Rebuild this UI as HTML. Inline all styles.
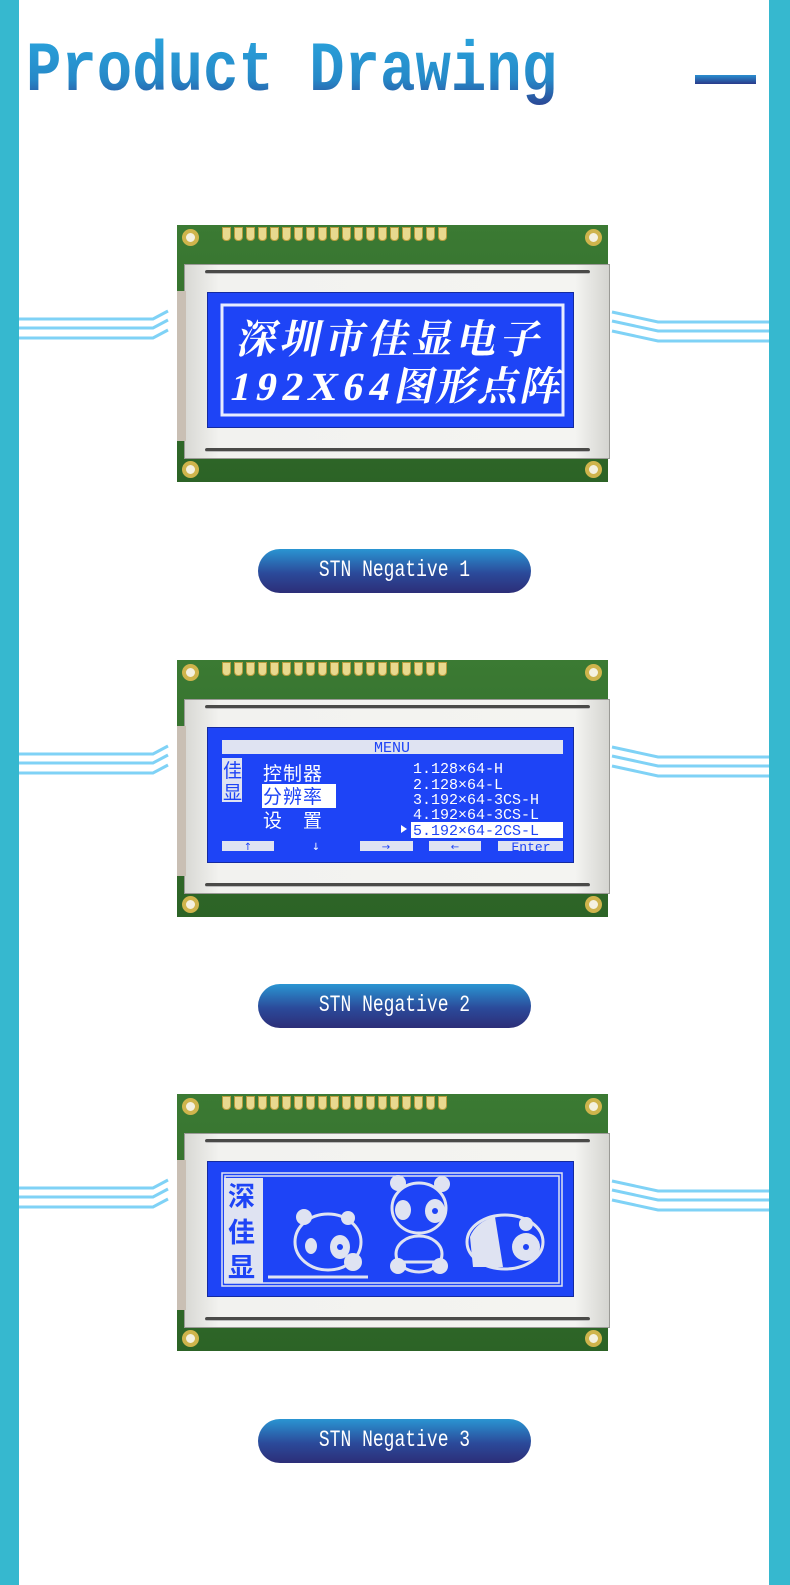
<!DOCTYPE html>
<html><head><meta charset="utf-8">
<style>
*{margin:0;padding:0;box-sizing:border-box}
body{width:790px;height:1585px;position:relative;background:#fff;overflow:hidden;font-family:"Liberation Sans",sans-serif}
.bl{position:absolute;left:0;top:0;width:19px;height:1585px;background:#36b8cf}
.br{position:absolute;left:769px;top:0;width:21px;height:1585px;background:#36b8cf}
.title{position:absolute;left:26px;top:36px;font-family:"Liberation Mono",monospace;font-weight:bold;font-size:59px;line-height:60px;transform:scaleY(1.2);transform-origin:0 0;background:linear-gradient(#2aa3dc 0%,#2689c8 60%,#2b3f8f 100%);-webkit-background-clip:text;background-clip:text;color:transparent;white-space:nowrap}
.dash{position:absolute;left:695px;top:75px;width:61px;height:9px;background:linear-gradient(#2a8fd0,#2a3a8a)}
.pill{position:absolute;left:258px;width:273px;height:44px;border-radius:22px;background:linear-gradient(#2a95d2,#2b4a9a 55%,#2c2e78);color:#fff;font-family:"Liberation Mono",monospace;font-size:18px;text-align:center;line-height:44px}
.pill span{display:inline-block;transform:scaleY(1.3)}
.mod{position:absolute;left:177px;width:431px;height:257px;background:linear-gradient(#3b7a33,#2c6326);}
.bez{position:absolute;left:7px;top:39px;width:426px;height:195px;background:linear-gradient(90deg,#d8d8d4,#f2f2ef 8%,#f4f4f1 92%,#d4d4d0);border:1px solid #9a9a96}
.slot{position:absolute;left:20px;width:385px;height:4px;border-radius:2px;background:#4a4a48;border-bottom:1px solid #bbb}
.tab{position:absolute;left:0;top:66px;width:9px;height:150px;background:#c9bfb4}
.hole{position:absolute;width:17px;height:17px;border-radius:50%;background:#f4f1e0;border:4px solid #cfb44c}
.pins{position:absolute;left:45px;top:2px;display:flex;gap:3.5px}
.pins i{display:block;width:8.5px;height:14px;background:#e8d98f;border-radius:0 0 4px 4px;border:1px solid #b89c3c}
.scr{position:absolute;left:30px;top:67px;width:367px;height:136px;background:#1e44f6;border:1px solid #142aa0}
.scr svg{position:absolute;left:0;top:0}
</style></head><body>
<div class="bl"></div><div class="br"></div>
<div class="title">Product Drawing</div>
<div class="dash"></div>

<svg width="790" height="1585" style="position:absolute;left:0;top:0" fill="none" stroke="#7fd2f6" stroke-width="3">
<g id="w"><path d="M19 319H153L168 311M19 328H153L168 320M19 338H153L168 330"/><path d="M612 312L658 322H769M612 321L658 331H769M612 331L658 341H769"/></g>
<use href="#w" y="435"/><use href="#w" y="869"/>
</svg>

<div class="mod" style="top:225px">
 <div class="pins"><i></i><i></i><i></i><i></i><i></i><i></i><i></i><i></i><i></i><i></i><i></i><i></i><i></i><i></i><i></i><i></i><i></i><i></i><i></i></div>
 <div class="hole" style="left:5px;top:4px"></div><div class="hole" style="left:408px;top:4px"></div>
 <div class="hole" style="left:5px;top:236px"></div><div class="hole" style="left:408px;top:236px"></div>
 <div class="bez"><div class="slot" style="top:5px"></div><div class="slot" style="top:183px"></div></div>
 <div class="tab"></div>
 <div class="scr">
  <svg width="367" height="136">
   <rect x="14" y="12" width="341" height="110" fill="none" stroke="#e8ecff" stroke-width="3"/>
   <g fill="#fff" font-family="Noto Serif CJK SC,serif" font-weight="bold" font-size="40" transform="skewX(-12)">
    <text x="40" y="60" letter-spacing="4">深圳市佳显电子</text>
    <text x="43" y="107" letter-spacing="2"><tspan font-family="Liberation Serif,serif" letter-spacing="6">192X64</tspan>图形点阵</text>
   </g>
  </svg>
 </div>
</div>
<div class="pill" style="top:549px"><span>STN Negative 1</span></div>

<div class="mod" style="top:660px">
 <div class="pins"><i></i><i></i><i></i><i></i><i></i><i></i><i></i><i></i><i></i><i></i><i></i><i></i><i></i><i></i><i></i><i></i><i></i><i></i><i></i></div>
 <div class="hole" style="left:5px;top:4px"></div><div class="hole" style="left:408px;top:4px"></div>
 <div class="hole" style="left:5px;top:236px"></div><div class="hole" style="left:408px;top:236px"></div>
 <div class="bez"><div class="slot" style="top:5px"></div><div class="slot" style="top:183px"></div></div>
 <div class="tab"></div>
 <div class="scr">
  <svg width="367" height="136">
   <rect x="14" y="12" width="341" height="14" fill="#dfe3f2"/>
   <text x="184" y="24" fill="#1e44f6" font-family="Liberation Mono,monospace" font-size="15" text-anchor="middle">MENU</text>
   <rect x="14" y="30" width="20" height="44" fill="#dfe3f2"/>
   <g font-family="Noto Sans CJK SC,sans-serif" font-size="19">
    <text x="15" y="49" fill="#1e44f6">佳</text><text x="15" y="71" fill="#1e44f6">显</text>
    <text x="55" y="52" fill="#fff" letter-spacing="1">控制器</text>
    <rect x="54" y="56" width="74" height="24" fill="#fff"/>
    <text x="55" y="75" fill="#1e44f6" letter-spacing="1">分辨率</text>
    <text x="55" y="99" fill="#fff" letter-spacing="21">设置</text>
   </g>
   <rect x="203" y="94" width="152" height="16" fill="#fff"/>
   <g font-family="Liberation Mono,monospace" font-size="15">
    <text x="205" y="45" fill="#fff">1.128×64-H</text>
    <text x="205" y="61" fill="#fff">2.128×64-L</text>
    <text x="205" y="76" fill="#fff">3.192×64-3CS-H</text>
    <text x="205" y="91" fill="#fff">4.192×64-3CS-L</text>
    <text x="205" y="107" fill="#1e44f6">5.192×64-2CS-L</text>
   </g>
   <path d="M193 97l6 4-6 4z" fill="#fff"/>
   <g fill="#dfe3f2"><rect x="14" y="113" width="52" height="10"/><rect x="152" y="113" width="53" height="10"/><rect x="221" y="113" width="52" height="10"/><rect x="290" y="113" width="65" height="10"/></g>
   <g font-family="DejaVu Sans,sans-serif" font-size="10" text-anchor="middle" fill="#1e44f6">
    <text x="40" y="122">↑</text><text x="108" y="122" fill="#fff">↓</text><text x="178" y="122">→</text><text x="247" y="122">←</text>
    <text x="323" y="123" font-family="Liberation Mono,monospace" font-size="13">Enter</text>
   </g>
  </svg>
 </div>
</div>
<div class="pill" style="top:984px"><span>STN Negative 2</span></div>

<div class="mod" style="top:1094px">
 <div class="pins"><i></i><i></i><i></i><i></i><i></i><i></i><i></i><i></i><i></i><i></i><i></i><i></i><i></i><i></i><i></i><i></i><i></i><i></i><i></i></div>
 <div class="hole" style="left:5px;top:4px"></div><div class="hole" style="left:408px;top:4px"></div>
 <div class="hole" style="left:5px;top:236px"></div><div class="hole" style="left:408px;top:236px"></div>
 <div class="bez"><div class="slot" style="top:5px"></div><div class="slot" style="top:183px"></div></div>
 <div class="tab"></div>
 <div class="scr">
  <svg width="367" height="136">
   <rect x="14" y="11" width="340" height="113" fill="none" stroke="#dfe3f2" stroke-width="1.5"/>
   <rect x="17" y="14" width="334" height="107" fill="none" stroke="#dfe3f2" stroke-width="1.5"/>
   <rect x="16" y="16" width="39" height="105" fill="#dfe3f2"/>
   <g font-family="Noto Sans CJK SC,sans-serif" font-weight="bold" font-size="27" fill="#1e44f6">
    <text x="20" y="44">深</text><text x="20" y="80">佳</text><text x="20" y="115">显</text>
   </g>
   <g fill="none" stroke="#dfe3f2" stroke-width="3">
    <ellipse cx="120" cy="80" rx="33" ry="28"/>
    <ellipse cx="211" cy="46" rx="27" ry="25"/>
    <ellipse cx="211" cy="92" rx="23" ry="18"/>
    <ellipse cx="297" cy="80" rx="38" ry="27"/>
    <path d="M60 115H160M193 100h36"/>
   </g>
   <g fill="#dfe3f2">
    <circle cx="96" cy="55" r="8"/><circle cx="140" cy="56" r="7"/><circle cx="145" cy="100" r="9"/>
    <ellipse cx="132" cy="85" rx="10" ry="12"/><ellipse cx="103" cy="84" rx="6" ry="8"/>
    <circle cx="190" cy="21" r="8"/><circle cx="234" cy="22" r="8"/>
    <ellipse cx="195" cy="48" rx="8" ry="10"/><ellipse cx="227" cy="49" rx="10" ry="12"/>
    <ellipse cx="190" cy="104" rx="8" ry="8"/><ellipse cx="232" cy="104" rx="8" ry="8"/>
    <path d="M262 75a35 30 0 0 1 25 -20l8 50h-30z"/>
    <ellipse cx="318" cy="85" rx="14" ry="14"/><circle cx="318" cy="62" r="7"/>
   </g>
   <g fill="#1e44f6"><circle cx="132" cy="85" r="3"/><circle cx="227" cy="49" r="3"/><circle cx="318" cy="85" r="3"/></g>
  </svg>
 </div>
</div>
<div class="pill" style="top:1419px"><span>STN Negative 3</span></div>
</body></html>
